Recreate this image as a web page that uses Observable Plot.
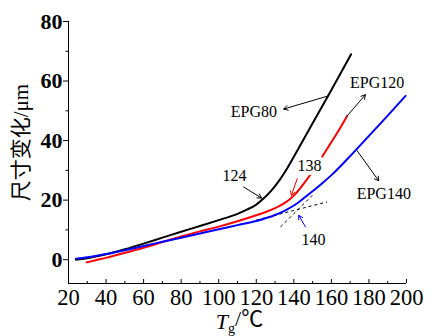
<!DOCTYPE html>
<html><head><meta charset="utf-8">
<script src="https://cdn.jsdelivr.net/npm/d3@7"></script>
<script src="https://cdn.jsdelivr.net/npm/@observablehq/plot@0.6"></script>
<style>body{margin:0;background:#fff}#chart svg{display:block}</style>
</head><body><div id="chart"></div>
<script>
// Series (temperature °C -> dimension change µm)
const epg80T  = [24, 30, 40, 50, 60, 70, 80, 90, 100, 110, 115, 120, 124, 128, 132, 136, 140, 150, 160, 170.5];
const epg80D  = [0, 0.5, 1.8, 3.5, 5.4, 7.4, 9.4, 11.3, 13.3, 15.4, 16.8, 18.5, 20.6, 23.2, 26.4, 30.2, 34.6, 45.8, 57, 69];
const epg120T = [29.6, 35, 40, 50, 60, 70, 80, 90, 100, 110, 120, 125, 130, 135, 138, 141, 145, 150, 155, 160, 165, 168.4];
const epg120D = [-0.9, -0.1, 0.6, 2.3, 4.0, 5.9, 7.8, 9.5, 11.1, 12.9, 14.9, 16.0, 17.3, 19.0, 20.4, 22.2, 25.3, 29.6, 34.5, 39.5, 44.6, 48.3];
const epg140T = [24, 30, 40, 50, 60, 70, 80, 90, 100, 110, 120, 130, 135, 140, 145, 150, 155, 160, 170, 180, 190, 199.5];
const epg140D = [0.3, 0.8, 1.9, 3.2, 4.6, 6.0, 7.4, 8.8, 10.2, 11.6, 13.0, 15.0, 16.4, 18.2, 20.5, 23.0, 25.6, 28.4, 34.8, 41.6, 48.4, 55];

const seriesNames  = ["EPG80", "EPG120", "EPG140"];
const seriesColors = ["black", "red", "blue"];

// Axes
const xTicks = [20, 40, 60, 80, 100, 120, 140, 160, 180, 200];
const xMinor = [30, 50, 70, 90, 110, 130, 150, 170, 190];
const yTicks = [0, 20, 40, 60, 80];
const yMinor = [10, 30, 50, 70];
const xLabel = "Tg/℃";
const yLabel = "尺寸变化/μm";

// Tangent construction lines for EPG140 (dashed)
const tanX1 = [132.9, 120];
const tanY1 = [11.0, 13.3];
const tanX2 = [149.8, 157.7];
const tanY2 = [21.6, 19.4];

// Annotations
const noteText  = ["124", "138", "140", "EPG80", "EPG120", "EPG140"];
const noteX     = [108.4, 148.3, 150.5, 118.7, 184.4, 187.9];
const noteY     = [28.1, 31.5, 6.8, 49.8, 59.3, 22.1];
const arrowX1   = [113.3, 141.8, 146.2, 158.3, 168.0, 173.7];
const arrowY1   = [24.4, 27.2, 11.0, 55.0, 48.0, 36.6];
const arrowX2   = [122.8, 138.7, 142.6, 134.6, 178.1, 185.2];
const arrowY2   = [20.7, 21.6, 14.9, 50.6, 55.4, 26.5];
const arrowCol  = ["black", "red", "blue", "black", "black", "black"];

// Build tables
const allT = [epg80T, epg120T, epg140T];
const allD = [epg80D, epg120D, epg140D];
const rows = [];
seriesNames.forEach((s, i) => allT[i].forEach((t, j) => rows.push({series: s, color: seriesColors[i], T: t, D: allD[i][j]})));
const tangents = tanX1.map((_, i) => ({x1: tanX1[i], y1: tanY1[i], x2: tanX2[i], y2: tanY2[i]}));
const notes = noteText.map((t, i) => ({text: t, x: noteX[i], y: noteY[i]}));
const arrows = arrowX1.map((_, i) => ({x1: arrowX1[i], y1: arrowY1[i], x2: arrowX2[i], y2: arrowY2[i], color: arrowCol[i]}));

const serif = "'Liberation Serif','Times New Roman','Noto Sans CJK SC',serif";
const frameH = 336 - 21 - 53;

const chart = Plot.plot({
  width: 430, height: 336,
  marginLeft: 68, marginRight: 24, marginTop: 21, marginBottom: 53,
  style: {fontFamily: serif, background: "white", color: "black"},
  x: {domain: [20, 200]},
  y: {domain: [-8, 80]},
  color: {type: "identity"},
  marks: [
    Plot.axisY({ticks: yTicks, tickSize: 5, tickPadding: 1, fontSize: 22, fontWeight: "bold", label: null}),
    Plot.axisY({ticks: yMinor, tickSize: 2.5, tickFormat: () => "", label: null}),
    Plot.axisX({ticks: xTicks, tickSize: 0, tickPadding: 6, fontSize: 22.5, label: null}),
    Plot.ruleX(xTicks, {insetTop: frameH - 4, stroke: "black"}),
    Plot.ruleX(xMinor, {insetTop: frameH - 2, stroke: "black"}),
    Plot.ruleY([-8], {stroke: "black"}),
    Plot.ruleX([20], {stroke: "black"}),
    Plot.link(tangents, {x1: "x1", y1: "y1", x2: "x2", y2: "y2", stroke: "black", strokeWidth: 1, strokeDasharray: "3,3"}),
    Plot.line(rows, {x: "T", y: "D", z: "series", stroke: "color", strokeWidth: 2, curve: "monotone-x"}),
    Plot.text(notes, {x: "x", y: "y", text: "text", fontSize: 16, fill: "black", stroke: "white", strokeWidth: 8, paintOrder: "stroke"}),
    Plot.arrow(arrows, {x1: "x1", y1: "y1", x2: "x2", y2: "y2", stroke: "color", strokeWidth: 1, headLength: 7, bend: 0}),
    Plot.text([xLabel], {frameAnchor: "bottom", lineAnchor: "middle", textAnchor: "middle", dx: 2, dy: 38, text: d => d, fontSize: 22, fill: "black"}),
    Plot.text([yLabel], {frameAnchor: "left", textAnchor: "middle", lineAnchor: "middle", dx: -47, dy: -10, rotate: -90, text: d => d, fontSize: 21, fill: "black"})
  ]
});
document.getElementById("chart").appendChild(chart);

// Rich formatting for the x label: italic T with subscript g
d3.select(chart).selectAll("text").filter(function() { return this.textContent === xLabel; }).each(function() {
  const t = d3.select(this);
  t.text(null);
  t.append("tspan").attr("font-style", "italic").text("T");
  t.append("tspan").attr("font-size", 14).attr("dy", "0.35em").text("g");
  t.append("tspan").attr("dy", "-0.35em").text("/℃");
});
</script>
</body></html>
